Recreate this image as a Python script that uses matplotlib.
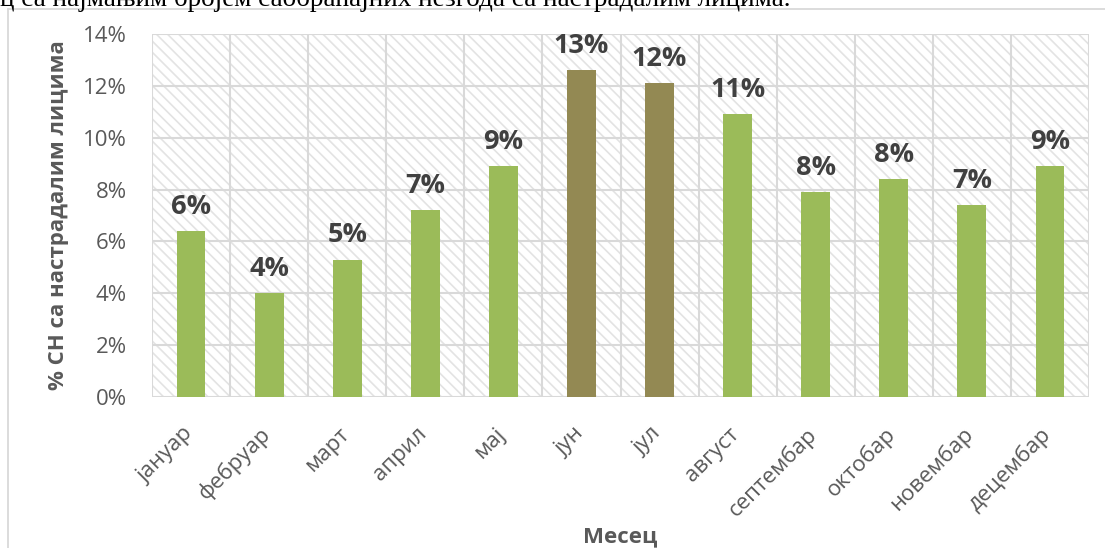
import matplotlib
matplotlib.use("Agg")
import matplotlib.pyplot as plt
from matplotlib.patches import Rectangle
from matplotlib.ticker import MultipleLocator, FuncFormatter
from matplotlib.transforms import ScaledTranslation

# Share of accidents with casualties per month, in percent
months = ["јануар", "фебруар", "март", "април", "мај", "јун",
          "јул", "август", "септембар", "октобар", "новембар", "децембар"]
shares = [6.4, 4.0, 5.3, 7.2, 8.9, 12.6, 12.1, 10.9, 7.9, 8.4, 7.4, 8.9]
highlight = ["јун", "јул"]

caption = "ец са најмањим бројем саобраћајних незгода са настрадалим лицима."

GREEN = "#9BBB59"
OLIVE = "#938953"
GRID = "#D9D9D9"

plt.rcParams["font.family"] = ["Open Sans", "DejaVu Sans"]
plt.rcParams["hatch.color"] = "#E3E3E3"
plt.rcParams["hatch.linewidth"] = 1.2

fig = plt.figure(figsize=(11.05, 5.48), dpi=100)

# caption line of the surrounding document, cut at the top edge
fig.text(790 / 1105, 1 - 6 / 548, caption, ha="right", va="baseline",
         fontsize=19.5, family="Liberation Serif", color="black")

# chart frame
fig.patches.append(Rectangle((8 / 1105, -0.1), 1.2, 1 - 9 / 548 + 0.1,
                             transform=fig.transFigure, fill=False,
                             edgecolor=GRID, linewidth=1.3, zorder=0))

ax = fig.add_axes([152 / 1105, 1 - 397 / 548, 937 / 1105, 363 / 548])
ax.set_facecolor("white")

x = list(range(len(months)))
ax.set_xlim(-0.5, len(months) - 0.5)
ax.set_ylim(0, 14)

# hatched plot background
ax.add_patch(Rectangle((0, 0), 1, 1, transform=ax.transAxes, facecolor="white",
                       edgecolor="#E3E3E3", hatch="\\\\\\", linewidth=0, zorder=0))

ax.yaxis.set_major_locator(MultipleLocator(2))
ax.yaxis.set_major_formatter(FuncFormatter(lambda v, _: f"{v:.0f}%"))
for v in range(0, 15, 2):
    ax.axhline(v, color=GRID, linewidth=1.5, zorder=1)
for b in range(len(months) + 1):
    ax.axvline(b - 0.5, color=GRID, linewidth=1.5, zorder=1)

colors = [OLIVE if m in highlight else GREEN for m in months]
bars = ax.bar(x, shares, width=0.37, color=colors, zorder=2)

for bar, val in zip(bars, shares):
    ax.annotate(f"{val:.0f}%", (bar.get_x() + bar.get_width() / 2, val),
                xytext=(0, 12.5), textcoords="offset points",
                ha="center", va="baseline", fontsize=19.5, fontweight="bold",
                color="#404040", zorder=3)

for s in ax.spines.values():
    s.set_visible(False)

ax.set_xticks(x)
ax.set_xticklabels(months, rotation=45, ha="right")
ax.tick_params(axis="x", length=0, pad=19, labelsize=16, labelcolor="#595959")
ax.tick_params(axis="y", length=0, pad=18, labelsize=16, labelcolor="#595959")

# nudge rotated month names so they end just right of the bar centre
shift = ScaledTranslation(6 / 100, 0, fig.dpi_scale_trans)
for lbl in ax.get_xticklabels():
    lbl.set_transform(lbl.get_transform() + shift)

ax.set_xlabel("Месец", fontsize=16, fontweight="bold", color="#595959", labelpad=4)
ax.set_ylabel("% СН са настрадалим лицима", fontsize=16, fontweight="bold",
              color="#595959", labelpad=10)

fig.savefig("out.png", dpi=100)
